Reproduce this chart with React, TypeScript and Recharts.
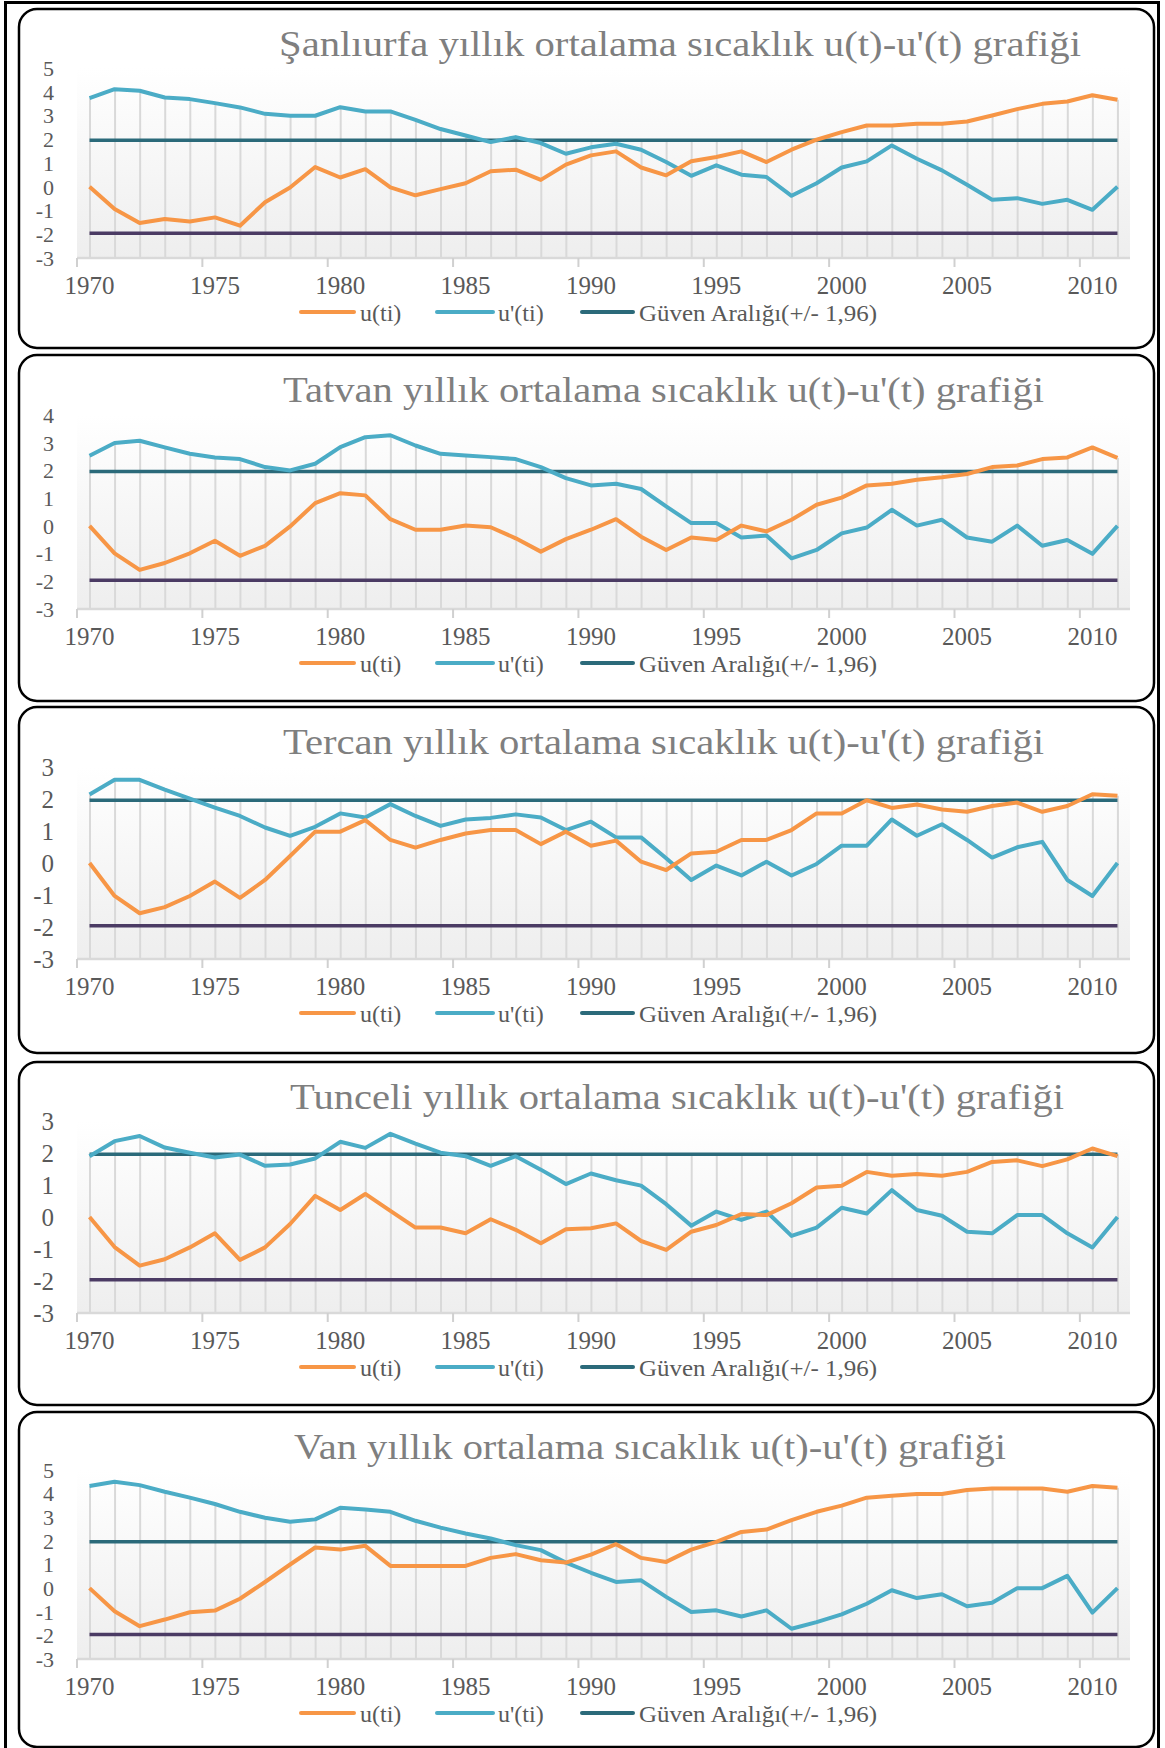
import React from 'react';
import { ComposedChart, Line, Bar, XAxis, YAxis, CartesianGrid } from 'recharts';

const years = ['1970','1971','1972','1973','1974','1975','1976','1977','1978','1979',
  '1980','1981','1982','1983','1984','1985','1986','1987','1988','1989',
  '1990','1991','1992','1993','1994','1995','1996','1997','1998','1999',
  '2000','2001','2002','2003','2004','2005','2006','2007','2008','2009',
  '2010','2011'];

const sanliurfaU = [0,-0.94,-1.53,-1.36,-1.46,-1.29,-1.64,-0.65,-0.03,0.83,
  0.39,0.74,-0.03,-0.36,-0.1,0.15,0.65,0.72,0.29,0.93,
  1.32,1.49,0.81,0.48,1.07,1.25,1.49,1.04,1.56,1.98,
  2.3,2.58,2.58,2.65,2.65,2.75,3.0,3.27,3.49,3.59,
  3.85,3.66];
const sanliurfaUp = [3.73,4.11,4.04,3.76,3.69,3.52,3.34,3.07,2.99,2.99,
  3.35,3.17,3.17,2.82,2.43,2.16,1.88,2.09,1.84,1.39,
  1.66,1.81,1.56,1.04,0.46,0.9,0.51,0.41,-0.38,0.15,
  0.81,1.07,1.74,1.18,0.69,0.08,-0.55,-0.48,-0.72,-0.55,
  -0.97,0];

const tatvanU = [0,-0.99,-1.59,-1.34,-0.99,-0.54,-1.08,-0.72,-0.02,0.82,
  1.18,1.1,0.24,-0.14,-0.14,0.01,-0.05,-0.45,-0.93,-0.48,
  -0.14,0.24,-0.39,-0.87,-0.42,-0.51,0.01,-0.2,0.22,0.76,
  1.02,1.46,1.52,1.66,1.75,1.87,2.12,2.18,2.41,2.47,
  2.83,2.45];
const tatvanUp = [2.53,2.99,3.07,2.83,2.6,2.47,2.41,2.12,2.0,2.24,
  2.84,3.2,3.27,2.9,2.6,2.54,2.48,2.41,2.12,1.72,
  1.46,1.52,1.33,0.7,0.1,0.1,-0.42,-0.35,-1.17,-0.87,
  -0.27,-0.06,0.58,0.01,0.22,-0.42,-0.57,0.01,-0.72,-0.51,
  -1.01,0];

const tercanU = [0,-1.03,-1.57,-1.38,-1.03,-0.58,-1.09,-0.53,0.22,0.98,
  0.98,1.34,0.72,0.48,0.72,0.92,1.03,1.03,0.59,0.98,
  0.54,0.7,0.04,-0.22,0.3,0.35,0.72,0.72,1.03,1.55,
  1.55,1.96,1.72,1.83,1.67,1.6,1.78,1.89,1.6,1.78,
  2.15,2.1];
const tercanUp = [2.14,2.6,2.6,2.29,2.01,1.73,1.47,1.11,0.85,1.13,
  1.55,1.42,1.84,1.47,1.16,1.36,1.41,1.52,1.42,1.03,
  1.29,0.8,0.8,0.15,-0.53,-0.08,-0.39,0.04,-0.39,-0.03,
  0.54,0.54,1.36,0.85,1.21,0.72,0.17,0.49,0.66,-0.53,
  -1.03,0];

const tunceliU = [0,-0.94,-1.52,-1.32,-0.95,-0.51,-1.34,-0.95,-0.22,0.66,
  0.22,0.72,0.19,-0.33,-0.33,-0.51,-0.07,-0.4,-0.82,-0.38,
  -0.35,-0.2,-0.75,-1.03,-0.46,-0.25,0.09,0.06,0.43,0.92,
  0.98,1.41,1.29,1.34,1.29,1.41,1.72,1.77,1.59,1.8,
  2.14,1.9];
const tunceliUp = [1.9,2.37,2.53,2.17,2.01,1.86,1.95,1.6,1.64,1.83,
  2.35,2.16,2.6,2.29,2.01,1.9,1.6,1.9,1.48,1.03,
  1.36,1.15,0.98,0.4,-0.27,0.17,-0.09,0.17,-0.59,-0.33,
  0.29,0.11,0.84,0.22,0.04,-0.46,-0.51,0.06,0.06,-0.51,
  -0.95,0];

const vanU = [0,-0.98,-1.61,-1.33,-1.02,-0.95,-0.45,0.26,1.0,1.72,
  1.63,1.79,0.94,0.94,0.94,0.94,1.28,1.44,1.18,1.08,
  1.42,1.86,1.28,1.11,1.63,1.96,2.38,2.48,2.88,3.23,
  3.49,3.83,3.91,3.98,3.98,4.15,4.22,4.22,4.22,4.08,
  4.32,4.25];
const vanUp = [4.32,4.5,4.36,4.08,3.83,3.56,3.23,2.98,2.81,2.91,
  3.4,3.33,3.23,2.85,2.56,2.31,2.1,1.82,1.61,1.08,
  0.65,0.26,0.33,-0.37,-1.01,-0.94,-1.2,-0.94,-1.72,-1.44,
  -1.11,-0.66,-0.09,-0.42,-0.26,-0.77,-0.62,0,0,0.52,
  -1.04,0];

const seriesNames = ['u(ti)', "u'(ti)", 'Güven Aralığı(+/- 1,96)'];
const seriesColors = ['#F79646', '#4BACC6', '#2B6A7A'];
const lowerColor = '#4B3B64';
const CONF = 1.96;
const Y_MIN = -3;

const titles = [
  "Şanlıurfa yıllık ortalama sıcaklık u(t)-u'(t) grafiği",
  "Tatvan yıllık ortalama sıcaklık u(t)-u'(t) grafiği",
  "Tercan yıllık ortalama sıcaklık u(t)-u'(t) grafiği",
  "Tunceli yıllık ortalama sıcaklık u(t)-u'(t) grafiği",
  "Van yıllık ortalama sıcaklık u(t)-u'(t) grafiği",
];
const uSeries = [sanliurfaU, tatvanU, tercanU, tunceliU, vanU];
const upSeries = [sanliurfaUp, tatvanUp, tercanUp, tunceliUp, vanUp];
const yMaxes = [5, 4, 3, 3, 5];

// layout (positions only)
const layout = [
  { top: 9, bottom: 348, plotTop: 68, plotBottom: 258, titleX: 279, titleW: 802 },
  { top: 355, bottom: 701, plotTop: 415, plotBottom: 609, titleX: 283, titleW: 761 },
  { top: 707, bottom: 1053, plotTop: 767, plotBottom: 959, titleX: 283, titleW: 761 },
  { top: 1062, bottom: 1405, plotTop: 1121, plotBottom: 1313, titleX: 290, titleW: 774 },
  { top: 1412, bottom: 1747, plotTop: 1470, plotBottom: 1659, titleX: 294, titleW: 712 },
];

const W = 1165;
const PLOT_LEFT = 77;
const PLOT_RIGHT = 1130;
const BW = (PLOT_RIGHT - PLOT_LEFT) / years.length;
const FONT = "'Liberation Serif', 'DejaVu Serif', serif";
const TEXT = '#595959';

const XTick = (props: any) => {
  const { x, y, payload } = props;
  const bx = x - BW / 2;
  return (
    <g>
      <line x1={bx} x2={bx} y1={y - 9} y2={y} stroke="#d0d0d0" strokeWidth={2} />
      <text x={x} y={y + 27} textAnchor="middle" fontSize={25} fill={TEXT} fontFamily={FONT}>
        {payload.value}
      </text>
    </g>
  );
};

function Panel({ idx }: { idx: number }) {
  const L = layout[idx];
  const yMax = yMaxes[idx];
  const data = years.map((yr, i) => ({
    year: yr,
    u: uSeries[idx][i],
    up: upSeries[idx][i],
    conf: CONF,
    confNeg: -CONF,
    drop: [Y_MIN, Math.max(uSeries[idx][i], upSeries[idx][i], CONF)],
  }));
  const ticks: number[] = [];
  for (let v = Y_MIN; v <= yMax; v++) ticks.push(v);
  const marginTop = 59;
  const xAxisH = 45;
  const h = L.plotBottom - L.plotTop + marginTop + xAxisH;
  const yFont = yMax >= 4 ? 22 : 25;
  return (
    <div style={{ position: 'absolute', left: 0, top: L.plotTop - marginTop, width: W, height: h }}>
      <ComposedChart
        width={W}
        height={h}
        data={data}
        margin={{ top: marginTop, right: W - PLOT_RIGHT, bottom: 0, left: 0 }}
        barGap={0}
      >
        <CartesianGrid horizontal={false} vertical={false} fill="url(#plotGrad)" stroke="none" />
        <XAxis
          dataKey="year"
          interval={4}
          height={xAxisH}
          tickSize={9}
          tickMargin={0}
          tickLine={false}
          axisLine={{ stroke: '#d9d9d9', strokeWidth: 2.5 }}
          tick={<XTick />}
        />
        <YAxis
          width={PLOT_LEFT}
          domain={[Y_MIN, yMax]}
          ticks={ticks}
          interval={0}
          axisLine={false}
          tickLine={false}
          tickSize={0}
          tickMargin={23}
          allowDataOverflow
          tick={{ fontSize: yFont, fill: TEXT, fontFamily: FONT }}
        />
        <Bar dataKey="drop" barSize={2} fill="#d9d9d9" isAnimationActive={false} legendType="none" />
        <Line dataKey="confNeg" stroke={lowerColor} strokeWidth={3.5} dot={false} isAnimationActive={false} legendType="none" />
        <Line dataKey="conf" name={seriesNames[2]} stroke={seriesColors[2]} strokeWidth={3.5} dot={false} isAnimationActive={false} />
        <Line dataKey="up" name={seriesNames[1]} stroke={seriesColors[1]} strokeWidth={4} dot={false} isAnimationActive={false} strokeLinejoin="round" />
        <Line dataKey="u" name={seriesNames[0]} stroke={seriesColors[0]} strokeWidth={4} dot={false} isAnimationActive={false} strokeLinejoin="round" />
      </ComposedChart>
    </div>
  );
}

const legendItems = [
  { lx1: 301, lx2: 354, tx: 360 },
  { lx1: 437, lx2: 493, tx: 498 },
  { lx1: 582, lx2: 633, tx: 639 },
];

export default function App() {
  return (
    <div style={{ position: 'absolute', left: 0, top: 0, width: W, height: 1748, overflow: 'hidden', background: '#fff' }}>
      <svg width={W} height={1748} style={{ position: 'absolute', left: 0, top: 0 }}>
        <defs>
          <linearGradient id="plotGrad" x1="0" y1="0" x2="0" y2="1">
            <stop offset="0%" stopColor="#ffffff" />
            <stop offset="100%" stopColor="#eeeeee" />
          </linearGradient>
        </defs>
        <rect x={5.5} y={2.5} width={1153} height={1760} fill="none" stroke="#000" strokeWidth={3} />
        {layout.map((L, i) => (
          <rect key={i} x={19} y={L.top} width={1135} height={L.bottom - L.top} rx={18} ry={18}
            fill="#fff" stroke="#000" strokeWidth={2.5} />
        ))}
        {layout.map((L, i) => (
          <text key={'t' + i} x={L.titleX} y={L.top + 47} fontSize={36} fill="#7f7f7f" fontFamily={FONT}
            textLength={L.titleW} lengthAdjust="spacingAndGlyphs">{titles[i]}</text>
        ))}
        {layout.map((L, i) => {
          const ly = L.plotBottom + 54;
          return (
            <g key={'l' + i}>
              {legendItems.map((it, k) => (
                <g key={k}>
                  <line x1={it.lx1} x2={it.lx2} y1={ly} y2={ly} stroke={seriesColors[k]} strokeWidth={4} strokeLinecap="round" />
                  <text x={it.tx} y={ly + 9} fontSize={24} fill={TEXT} fontFamily={FONT}
                    textLength={k === 2 ? 238 : undefined} lengthAdjust="spacingAndGlyphs">{seriesNames[k]}</text>
                </g>
              ))}
            </g>
          );
        })}
      </svg>
      {layout.map((_, i) => <Panel key={i} idx={i} />)}
    </div>
  );
}
